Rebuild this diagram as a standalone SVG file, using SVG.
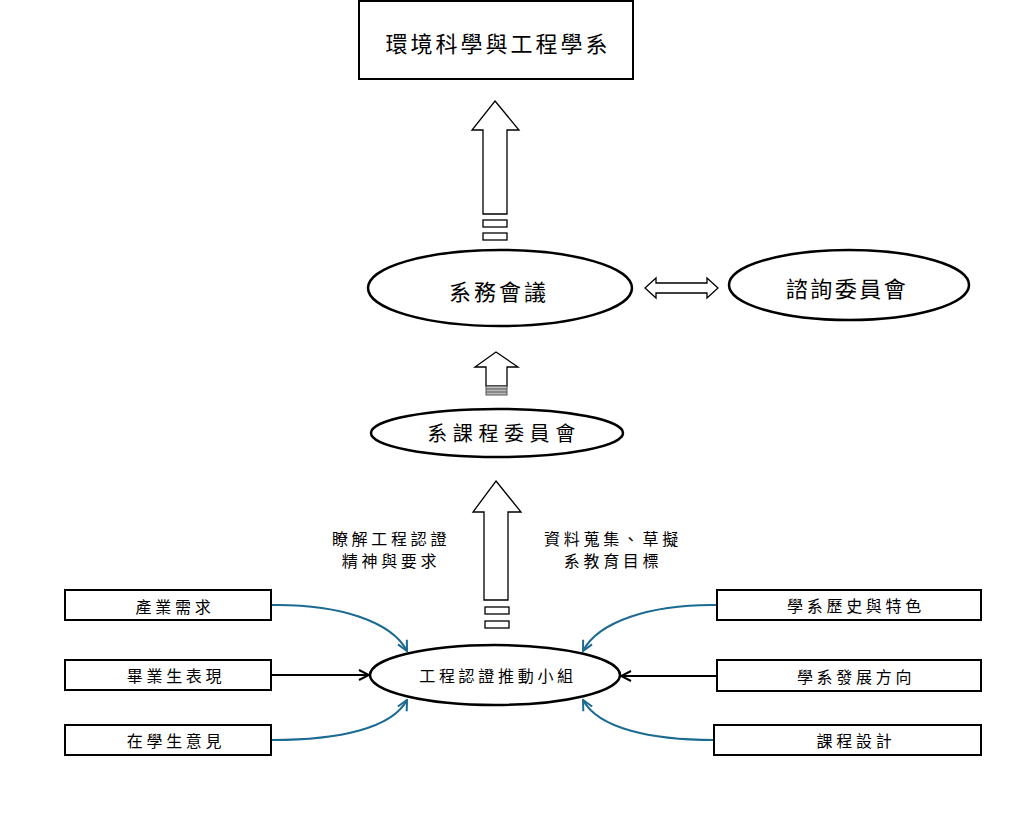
<svg xmlns="http://www.w3.org/2000/svg" width="1014" height="834" viewBox="0 0 1014 834">
<defs>
<style>
text{font-family:"Noto Sans CJK TC","Noto Sans CJK SC",sans-serif;fill:#000;text-anchor:middle;dominant-baseline:central}
.box{fill:#fff;stroke:#000;stroke-width:2}
.ell{fill:#fff;stroke:#000;stroke-width:2.5}
.bigarrow{fill:#fff;stroke:#000;stroke-width:1.3}
.small{font-size:16px;letter-spacing:3.7px}
.blue{fill:none;stroke:#1b6a91;stroke-width:2}
.blk{fill:none;stroke:#000;stroke-width:2}
</style>
<marker id="mb" viewBox="0 0 12 12" refX="11" refY="6" markerWidth="12" markerHeight="12" markerUnits="userSpaceOnUse" orient="auto">
<path d="M1,1 L11,6 L1,11" fill="none" stroke="#1b6a91" stroke-width="2"/>
</marker>
<marker id="mk" viewBox="0 0 12 12" refX="11" refY="6" markerWidth="12" markerHeight="12" markerUnits="userSpaceOnUse" orient="auto">
<path d="M1,1 L11,6 L1,11" fill="none" stroke="#000" stroke-width="2"/>
</marker>
</defs>
<rect width="1014" height="834" fill="#fff"/>

<g id="connectors">
<path class="blue" d="M272,605 C340,604 392,622 407,651" marker-end="url(#mb)"/>
<path class="blk" d="M272,675 L369,675" marker-end="url(#mk)"/>
<path class="blue" d="M272,740 C340,740 392,728 407,700" marker-end="url(#mb)"/>
<path class="blue" d="M717,605 C650,604 598,622 583,651" marker-end="url(#mb)"/>
<path class="blk" d="M717,676 L621,676" marker-end="url(#mk)"/>
<path class="blue" d="M714,740 C650,740 598,728 583,700" marker-end="url(#mb)"/>
<polygon class="bigarrow" points="495,101 519,130 507,130 507,214 483,214 483,130 472,130"/>
<rect class="bigarrow" x="483" y="220" width="24" height="7"/>
<rect class="bigarrow" x="483" y="233" width="24" height="7"/>
<polygon class="bigarrow" points="645,288 656,278 656,283 707,283 707,278 718,288 707,298 707,293 656,293 656,298"/>
<polygon class="bigarrow" points="496,352 518,367 507,367 507,386 486,386 486,367 475,367"/>
<rect x="486" y="386" width="21" height="9" fill="#bbb" stroke="#555" stroke-width="1"/>
<line x1="486" y1="389" x2="507" y2="389" stroke="#555" stroke-width="1"/>
<line x1="486" y1="392" x2="507" y2="392" stroke="#555" stroke-width="1"/>
<polygon class="bigarrow" points="496,481 521,512 508,512 508,600 484,600 484,512 473,512"/>
<rect class="bigarrow" x="485" y="607" width="24" height="7"/>
<rect class="bigarrow" x="485" y="621" width="24" height="7"/>
</g>

<g id="n-dept">
<rect class="box" x="359" y="1" width="274" height="78"/>
<text x="498" y="42" style="font-size:22px;letter-spacing:3px">環境科學與工程學系</text>
</g>
<g id="n-meeting">
<ellipse class="ell" cx="500" cy="288" rx="132" ry="38"/>
<text x="499" y="290" style="font-size:22px;letter-spacing:3px">系務會議</text>
</g>
<g id="n-advisory">
<ellipse class="ell" cx="849" cy="285" rx="120" ry="35"/>
<text x="847" y="287" style="font-size:22px;letter-spacing:2.5px">諮詢委員會</text>
</g>
<g id="n-curriculum">
<ellipse class="ell" cx="497" cy="433" rx="126" ry="24"/>
<text x="504" y="432" style="font-size:20px;letter-spacing:5.6px">系課程委員會</text>
</g>
<g id="n-task">
<ellipse class="ell" cx="495" cy="675" rx="125" ry="30"/>
<text class="small" x="498" y="675">工程認證推動小組</text>
</g>
<g id="l-left">
<text class="small" x="391" y="538">瞭解工程認證</text>
<text class="small" x="391" y="560">精神與要求</text>
</g>
<g id="l-right">
<text class="small" x="613" y="538">資料蒐集、草擬</text>
<text class="small" x="613" y="560">系教育目標</text>
</g>
<g id="n-industry">
<rect class="box" x="65" y="590" width="206" height="30"/>
<text class="small" x="175" y="606">產業需求</text>
</g>
<g id="n-grad">
<rect class="box" x="65" y="660" width="206" height="30"/>
<text class="small" x="176" y="675">畢業生表現</text>
</g>
<g id="n-student">
<rect class="box" x="65" y="725" width="206" height="30"/>
<text class="small" x="176" y="740">在學生意見</text>
</g>
<g id="n-history">
<rect class="box" x="717" y="590" width="264" height="30"/>
<text class="small" x="856" y="605">學系歷史與特色</text>
</g>
<g id="n-direction">
<rect class="box" x="717" y="660" width="264" height="31"/>
<text class="small" x="856" y="676">學系發展方向</text>
</g>
<g id="n-design">
<rect class="box" x="714" y="725" width="267" height="30"/>
<text class="small" x="856" y="740">課程設計</text>
</g>
</svg>
